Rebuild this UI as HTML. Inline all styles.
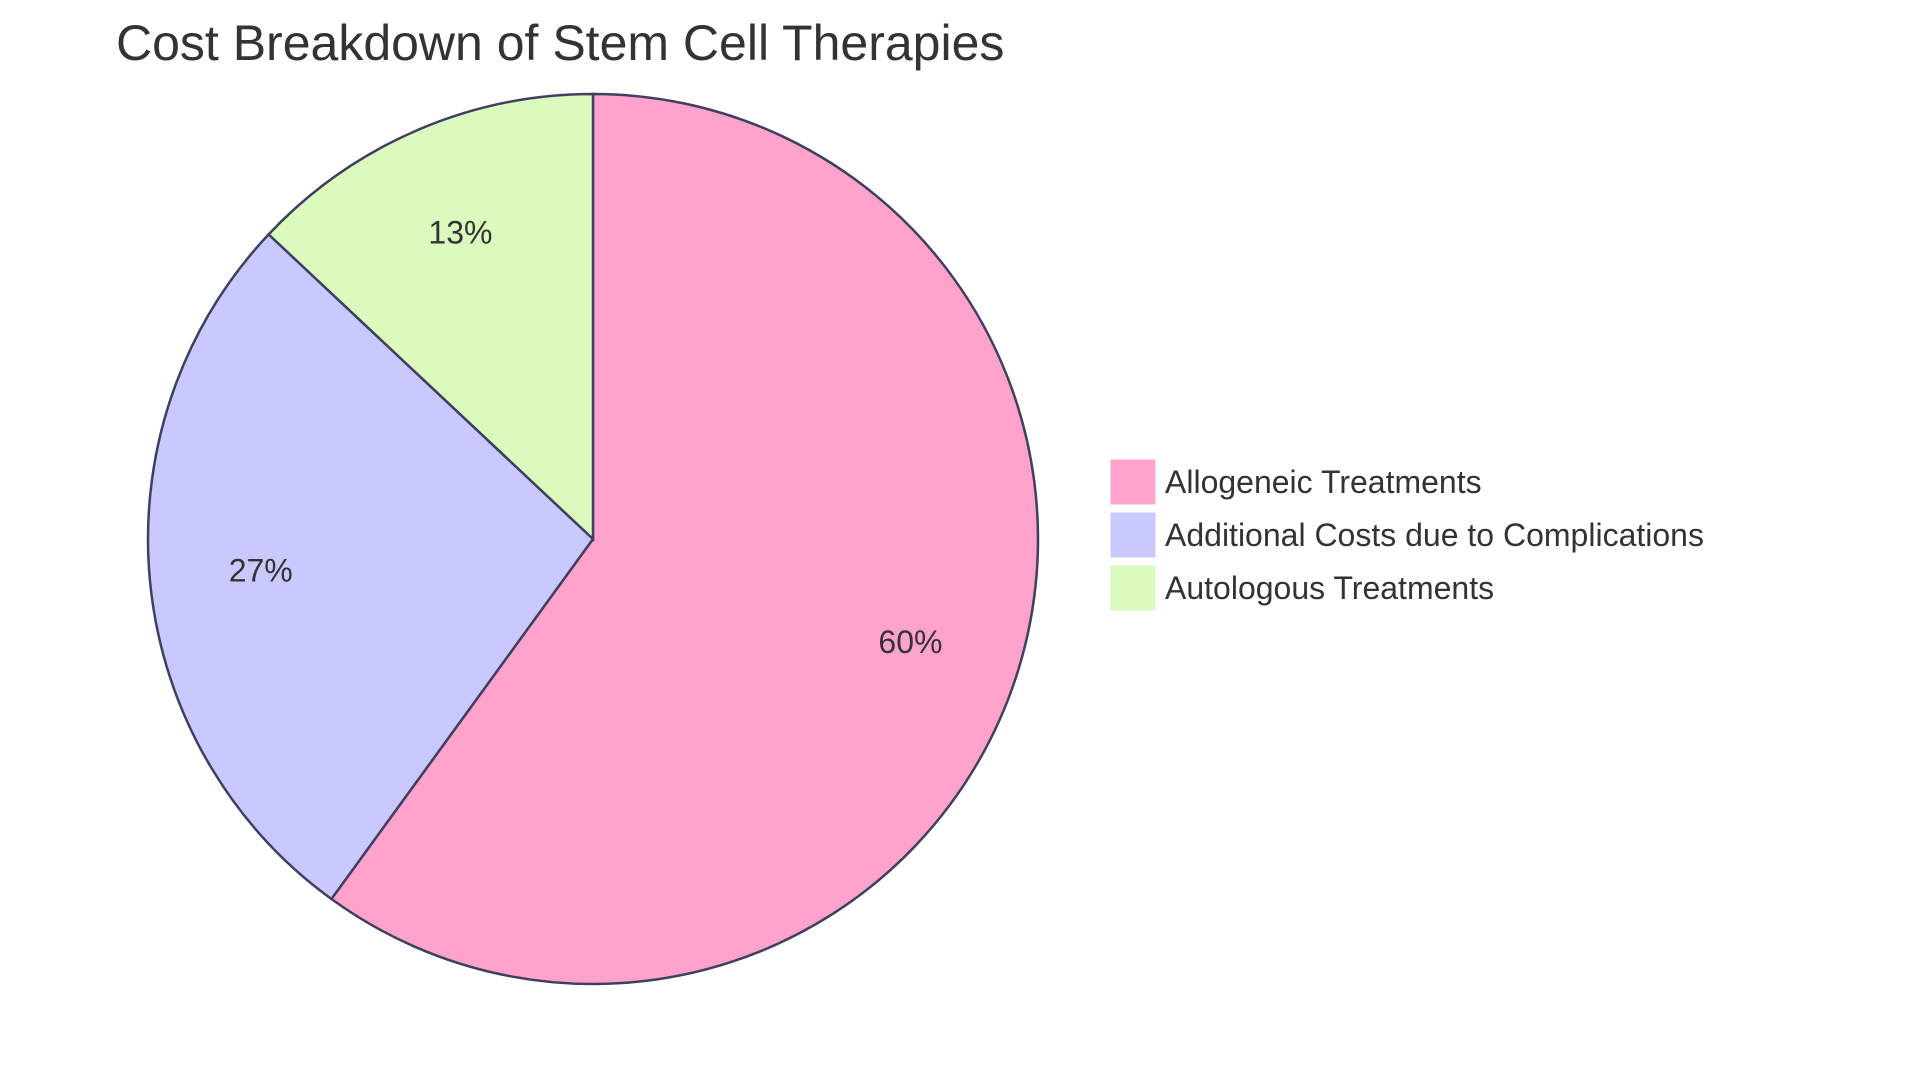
<!DOCTYPE html>
<html><head><meta charset="utf-8"><style>
html,body{margin:0;padding:0;background:#fff;}
svg{display:block;font-family:"Liberation Sans",sans-serif;}
</style></head><body>
<svg id="chart" width="1920" height="1083" viewBox="0 0 1920 1083">
<text x="116" y="60" font-size="50" fill="#333">Cost Breakdown of Stem Cell Therapies</text>
<g id="slices"></g>
<g id="labels"></g>
<g id="legend"></g>
</svg>
<script>
const categories = ["Allogeneic Treatments", "Additional Costs due to Complications", "Autologous Treatments"];
const values = [60, 27, 13];
const colors = ["#FFA3CC", "#C9C9FF", "#DAFBBD"];
const NS = "http://www.w3.org/2000/svg";
const cx = 593, cy = 539, r = 445;
const total = values.reduce((a,b)=>a+b,0);
const sl = document.getElementById('slices'), lb = document.getElementById('labels'), lg = document.getElementById('legend');
function pt(a, rad){ return [cx + rad*Math.sin(a), cy - rad*Math.cos(a)]; }
let start = 0;
values.forEach((v,i)=>{
  const ang = v/total*2*Math.PI, end = start+ang;
  const [x1,y1]=pt(start,r),[x2,y2]=pt(end,r);
  const p=document.createElementNS(NS,'path');
  p.setAttribute('d',`M${cx},${cy} L${x1},${y1} A${r},${r} 0 ${ang>Math.PI?1:0} 1 ${x2},${y2} Z`);
  p.setAttribute('fill',colors[i]);p.setAttribute('stroke','#3f3f5f');p.setAttribute('stroke-width','2.5');
  
  
  sl.appendChild(p);
  const [lx,ly]=pt(start+ang/2, r*0.75);
  const t=document.createElementNS(NS,'text');
  t.setAttribute('x',lx);t.setAttribute('y',ly+11);t.setAttribute('text-anchor','middle');
  t.setAttribute('font-size','32');t.setAttribute('fill','#333');
  t.textContent=Math.round(v/total*100)+'%';
  
  
  lb.appendChild(t);
  start=end;
  const y0=460+i*53;
  const rc=document.createElementNS(NS,'rect');
  rc.setAttribute('x',1111);rc.setAttribute('y',y0);rc.setAttribute('width',44);rc.setAttribute('height',44);
  rc.setAttribute('fill',colors[i]);rc.setAttribute('stroke',colors[i]);
  
  
  lg.appendChild(rc);
  const lt=document.createElementNS(NS,'text');
  lt.setAttribute('x',1165);lt.setAttribute('y',y0+33);lt.setAttribute('font-size','32');lt.setAttribute('fill','#333');
  lt.textContent=categories[i];
  
  
  lg.appendChild(lt);
});
</script>
</body></html>
